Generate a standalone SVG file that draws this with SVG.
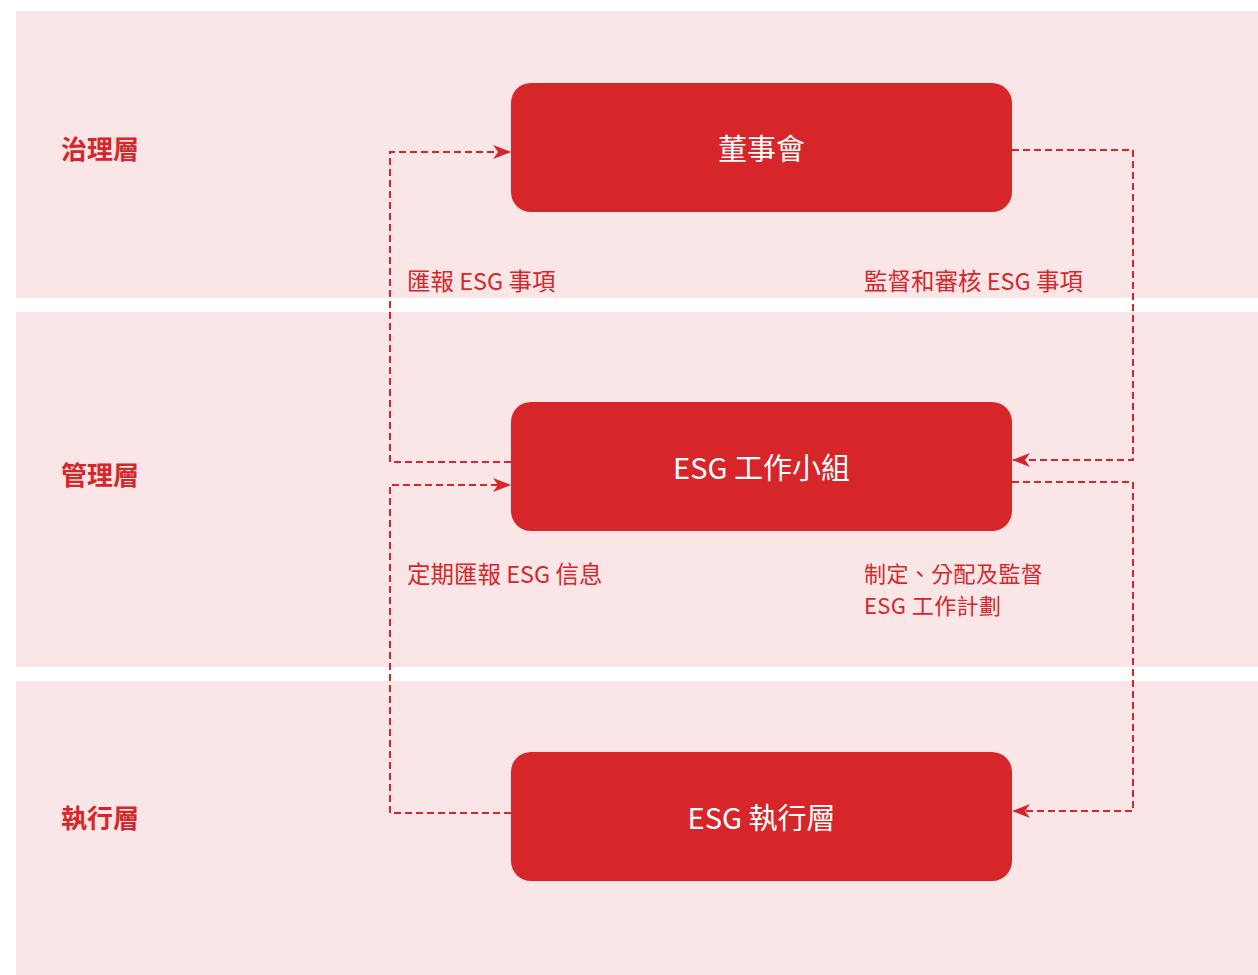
<svg xmlns="http://www.w3.org/2000/svg" width="1258" height="975" viewBox="0 0 1258 975">
<style>
.band{fill:#fbe6e7}
.node{fill:#d7262a}
.ntext{fill:#ffffff;font-family:"Noto Sans CJK TC","Noto Sans CJK SC",sans-serif;font-size:29px;text-anchor:middle;dominant-baseline:central}
.layer{fill:#d7262a;font-family:"Noto Sans CJK TC","Noto Sans CJK SC",sans-serif;font-size:26px;font-weight:bold;dominant-baseline:central}
.lbl{fill:#d7262a;font-family:"Noto Sans CJK TC","Noto Sans CJK SC",sans-serif;font-size:23.5px}
.lbl2{font-size:22px;letter-spacing:0.4px}
.conn{fill:none;stroke:#d7262a;stroke-width:2;stroke-dasharray:7 4}
</style>
<defs>
<marker id="arr" markerWidth="18" markerHeight="14" refX="17" refY="7" orient="auto" markerUnits="userSpaceOnUse">
<path d="M0,0 L18,7 L0,14 L5,7 Z" fill="#d7262a"/>
</marker>
</defs>
<rect width="1258" height="975" fill="#ffffff"/>
<g id="bands">
<rect class="band" x="16" y="11" width="1242" height="287"/>
<rect class="band" x="16" y="312" width="1242" height="355"/>
<rect class="band" x="16" y="681" width="1242" height="294"/>
</g>
<g id="layer-labels">
<text class="layer" x="61" y="147">治理層</text>
<text class="layer" x="61" y="473">管理層</text>
<text class="layer" x="61" y="816">執行層</text>
</g>
<g id="connectors">
<path class="conn" d="M511,462 H390 V152 H510" marker-end="url(#arr)"/>
<path class="conn" d="M1012,150 H1133 V460 H1013" marker-end="url(#arr)"/>
<path class="conn" d="M511,813 H390 V485 H510" marker-end="url(#arr)"/>
<path class="conn" d="M1012,482 H1133 V811 H1013" marker-end="url(#arr)"/>
</g>
<g id="connector-labels">
<text class="lbl" x="407" y="290">匯報 ESG 事項</text>
<text class="lbl" x="864" y="290">監督和審核 ESG 事項</text>
<text class="lbl" x="407" y="583">定期匯報 ESG 信息</text>
<text class="lbl lbl2" x="864" y="582">制定、分配及監督</text>
<text class="lbl lbl2" x="864" y="614">ESG 工作計劃</text>
</g>
<g id="node-board">
<rect class="node" x="511" y="83" width="501" height="129" rx="20"/>
<text class="ntext" x="761.5" y="147">董事會</text>
</g>
<g id="node-group">
<rect class="node" x="511" y="402" width="501" height="129" rx="20"/>
<text class="ntext" x="761.5" y="466">ESG 工作小組</text>
</g>
<g id="node-exec">
<rect class="node" x="511" y="752" width="501" height="129" rx="20"/>
<text class="ntext" x="761.5" y="816">ESG 執行層</text>
</g>
</svg>
